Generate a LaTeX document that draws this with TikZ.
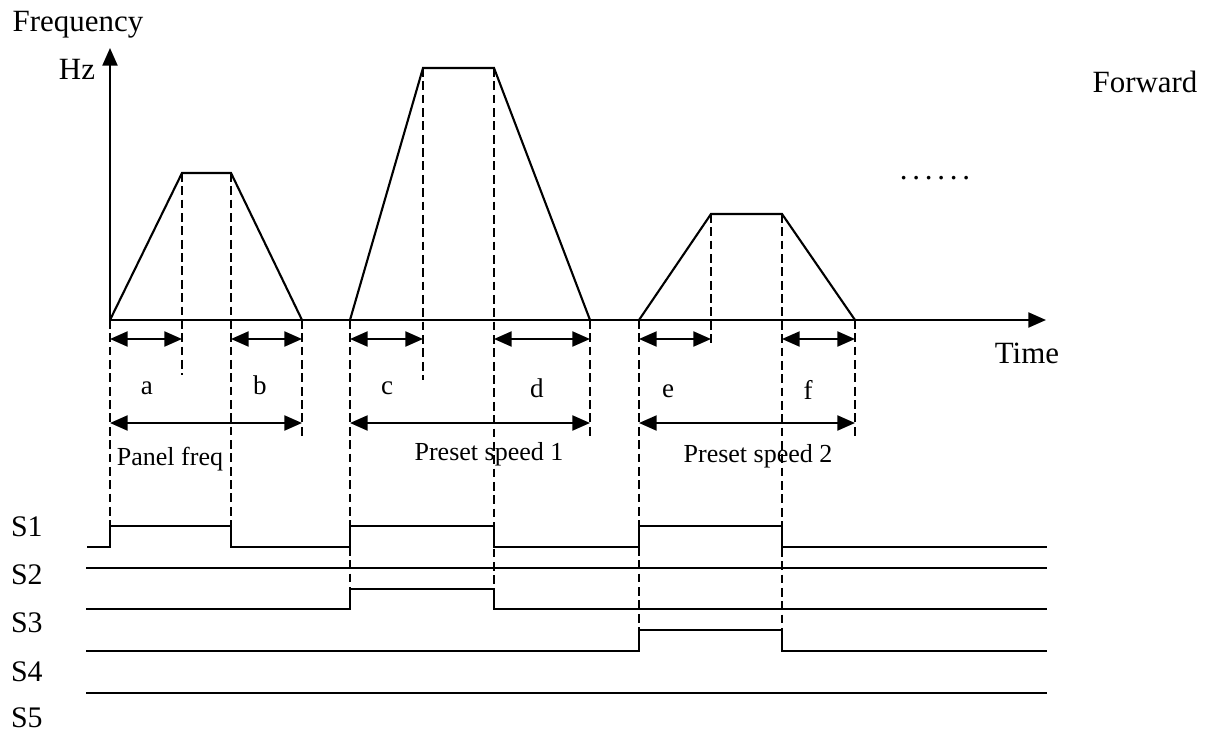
\documentclass[tikz,border=0pt]{standalone}
\usepackage{fontspec}
\setmainfont{Liberation Serif}
\usepackage{tikz}
\usetikzlibrary{
  % enables the filled arrow heads
  arrows.meta,%
  calc,%
  positioning
}
\tikzset{>={Triangle[length=10pt,width=8.5pt]}}
\tikzset{font=\fontsize{17.6}{20}\selectfont}
\tikzset{lbl/.style={inner sep=0pt, anchor=base},
  small/.style={font=\fontsize{14.8}{17}\selectfont},
  letter/.style={font=\fontsize{15.4}{18}\selectfont},
  guide/.style={dash pattern=on 5pt off 2.6pt},
  dim/.style={<->}}

\begin{document}
\begin{tikzpicture}[x=0.02cm, y=-0.02cm, line width=1.2pt]
        \useasboundingbox (0,0) rectangle (1209,733);
        \coordinate (o) at (110,320);
        \coordinate (ytip) at (110,48);
        \coordinate (xtip) at (1046,320);
        \draw[->] (o) -- (ytip);
        \draw[->] (o) -- (xtip);
        \node[lbl] (freq) at (78,32) {Frequency};
        \node[lbl] (hz) at (77,80) {Hz};
        \node[lbl] (time) at (1027,363) {Time};
        \node[lbl] (fwd) at (1145,93) {Forward};
        \node[lbl] (dots) at (935,179) {.\kern2.7pt.\kern2.7pt.\kern2.7pt.\kern2.7pt.\kern2.7pt.};
        \foreach \n/\p/\q/\r/\s/\h in {1/110/182/231/302/173, 2/350/423/494/590/68, 3/639/711/782/855/214} {
          \coordinate (p\n) at (\p,320);
          \coordinate (q\n) at (\q,\h);
          \coordinate (r\n) at (\r,\h);
          \coordinate (s\n) at (\s,320);
          \draw (p\n) -- (q\n) -- (r\n) -- (s\n);
        }
        \draw[guide] (p1) -- (110,526);
        \draw[guide] (q1) -- (182,375);
        \draw[guide] (r1) -- (231,526);
        \draw[guide] (s1) -- (302,437);
        \draw[guide] (p2) -- (350,589);
        \draw[guide] (q2) -- (423,380);
        \draw[guide] (r2) -- (494,589);
        \draw[guide] (s2) -- (590,437);
        \draw[guide] (p3) -- (639,630);
        \draw[guide] (q3) -- (711,345);
        \draw[guide] (r3) -- (782,630);
        \draw[guide] (s3) -- (855,437);
        \foreach \n in {1,2,3} {
          \draw[dim] ($(p\n)+(0,19)$) -- ($(q\n |- p\n)+(0,19)$);
          \draw[dim] ($(r\n |- s\n)+(0,19)$) -- ($(s\n)+(0,19)$);
          \draw[dim] ($(p\n)+(0,103)$) -- ($(s\n)+(0,103)$);
        }
        \node[lbl, letter] (la) at (147,394) {a};
        \node[lbl, letter] (lb) at (260,394) {b};
        \node[lbl, letter] (lc) at (387,394) {c};
        \node[lbl, letter] (ld) at (537,397) {d};
        \node[lbl, letter] (le) at (668,397) {e};
        \node[lbl, letter] (lf) at (808,399) {f};
        \node[lbl, small] (panel) at (170,465) {Panel freq};
        \node[lbl, small] (preset1) at (489,460) {Preset speed 1};
        \node[lbl, small] (preset2) at (758,462) {Preset speed 2};
        \foreach \n/\y in {1/536, 2/584, 3/632, 4/681, 5/727}
          \node[lbl, anchor=base west, font=\fontsize{17}{20}\selectfont] (S\n) at (10,\y) {S\n};
        \draw (87,547) -- (110,547) -- (110,526) -- (231,526) -- (231,547) -- (350,547) -- (350,526)
          -- (494,526) -- (494,547) -- (639,547) -- (639,526) -- (782,526) -- (782,547) -- (1047,547);
        \draw (86,568) -- (1047,568);
        \draw (86,609) -- (350,609) -- (350,589) -- (494,589) -- (494,609) -- (1047,609);
        \draw (86,651) -- (639,651) -- (639,630) -- (782,630) -- (782,651) -- (1047,651);
        \draw (86,693) -- (1047,693);
      \end{tikzpicture}
\end{document}
